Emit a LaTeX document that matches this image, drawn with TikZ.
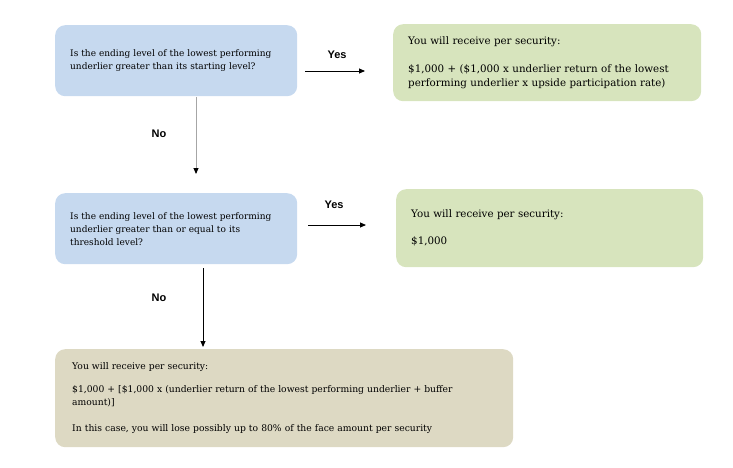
\documentclass[tikz,border=0pt]{standalone}
\usepackage{fontspec}
\setmainfont{DejaVu Serif}
\newfontfamily\lblfont{Liberation Sans}
\usetikzlibrary{arrows.meta}
\definecolor{qblue}{HTML}{C6D9EF}
\definecolor{rgreen}{HTML}{D7E4BD}
\definecolor{rtan}{HTML}{DDD9C3}
\begin{document}
\begin{tikzpicture}[x=1pt,y=-1pt]
          \tikzstyle{every node}=[font=\fontsize{9}{13}\selectfont];
          \tikzstyle{box}=[anchor=north west,rounded corners=10pt,align=left,inner ysep=0pt];
          \tikzstyle{gbox}=[box,fill=rgreen,font=\fontsize{10.3}{14}\selectfont];
          \tikzstyle{lbl}=[font=\lblfont\bfseries\fontsize{11}{13}\selectfont];
          \tikzstyle{arr}=[line width=0.9pt,-{Triangle[length=6pt,width=5pt]}];
          \useasboundingbox (0,0) rectangle (733,468);
          %questions
          \node (q1) at (55,25) [box,fill=qblue,minimum height=71pt,inner xsep=15pt,text width=212pt]
            {Is the ending level of the lowest performing\\underlier greater than its starting level?};
          \node (q2) at (55,193) [box,fill=qblue,minimum height=71pt,inner xsep=15pt,text width=212pt]
            {Is the ending level of the lowest performing\\underlier greater than or equal to its\\threshold level?};
          %results
          \node (r1) at (393,24) [gbox,minimum height=77pt,inner xsep=15pt,text width=278pt]
            {You will receive per security:\\[14pt]\$1,000 + (\$1,000 x underlier return of the lowest\\performing underlier x upside participation rate)};
          \node (r2) at (396,189) [gbox,minimum height=78pt,inner xsep=15pt,text width=277pt]
            {You will receive per security:\\[13pt]\$1,000};
          \node (r3) at (55,349) [box,fill=rtan,minimum height=98pt,inner xsep=17pt,text width=424pt,font=\fontsize{9.2}{13.5}\selectfont]
            {You will receive per security:\\[9pt]\$1,000 + [\$1,000 x (underlier return of the lowest performing underlier + buffer\\amount)]\\[12pt]In this case, you will lose possibly up to 80\% of the face amount per security};
          %arrow ends
          \coordinate (y1a) at (305,71);
          \coordinate (y1b) at (365,71);
          \coordinate (n1a) at (196,97);
          \coordinate (n1b) at (196,174);
          \coordinate (y2a) at (308,225);
          \coordinate (y2b) at (366,225);
          \coordinate (n2a) at (203,268);
          \coordinate (n2b) at (203,347);
          \draw[arr] (y1a)--(y1b);
          \draw[arr,draw=gray!70,-{Triangle[length=6pt,width=5pt,fill=black,color=black]}] (n1a)--(n1b);
          \draw[arr] (y2a)--(y2b);
          \draw[arr] (n2a)--(n2b);
          \node (t1) at (337,55) [lbl] {Yes};
          \node (t2) at (159,134) [lbl] {No};
          \node (t3) at (334,205) [lbl] {Yes};
          \node (t4) at (159,298) [lbl] {No};
      \end{tikzpicture}
\end{document}
